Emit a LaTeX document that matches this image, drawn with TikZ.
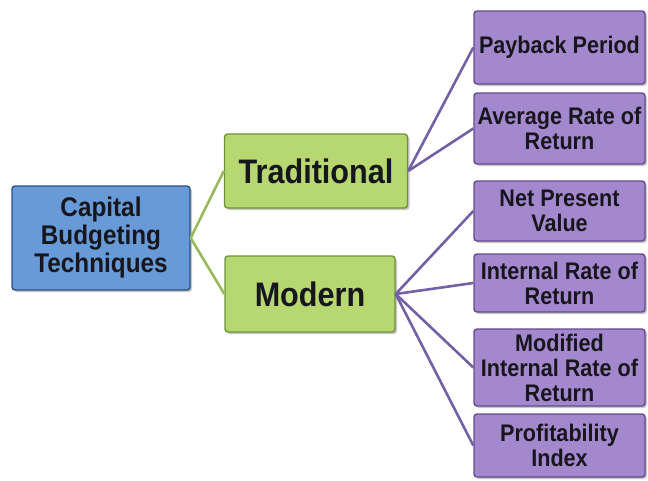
\documentclass[tikz,border=0pt]{standalone}
\usepackage{fontspec}
\usepackage{tikz}
\usetikzlibrary{shadows}
\newfontfamily\boxfont{Liberation Sans}[FakeStretch=0.9]
\definecolor{rootblue}{RGB}{104, 154, 216}
\definecolor{rootedge}{RGB}{45, 80, 128}
\definecolor{catgreen}{RGB}{183, 215, 112}
\definecolor{catedge}{RGB}{112, 146, 58}
\definecolor{methpurple}{RGB}{164, 136, 206}
\definecolor{methedge}{RGB}{98, 74, 140}
\definecolor{linkgreen}{RGB}{150, 186, 92}
\definecolor{linkpurple}{RGB}{116, 96, 164}
\definecolor{inkdark}{RGB}{22, 22, 28}
\tikzset{
    basebox/.style={rounded corners=3pt, line width=1.4pt, align=center, text=inkdark,
                    inner sep=2pt, drop shadow={shadow xshift=2pt, shadow yshift=-2pt, opacity=0.45}},
    rootbox/.style={basebox, draw=rootedge, fill=rootblue,
                    font=\boxfont\bfseries\fontsize{27}{28}\selectfont},
    catbox/.style={basebox, draw=catedge, fill=catgreen,
                    font=\boxfont\bfseries\fontsize{34}{36}\selectfont},
    methodbox/.style={basebox, draw=methedge, fill=methpurple, minimum width=171pt,
                    font=\boxfont\bfseries\fontsize{24}{25}\selectfont},
    greenlink/.style={draw=linkgreen, line width=2.6pt},
    purplelink/.style={draw=linkpurple, line width=2.6pt}
}
\begin{document}
\begin{tikzpicture}[x=1pt, y=-1pt]
    % Frame to fix the page size:
    \useasboundingbox (0, 0) rectangle (648, 480);
    % Root
    \node[rootbox, minimum width=178pt, minimum height=104pt] (capital) at (101, 238)
        {Capital\\Budgeting\\Techniques};
    % Categories
    \node[catbox, minimum width=183pt, minimum height=74pt] (trad)   at (316, 171) {Traditional};
    \node[catbox, minimum width=170pt, minimum height=76pt] (modern) at (310, 294) {Modern};
    % Traditional methods
    \node[methodbox, minimum height=73pt] (payback) at (559.5,  47.5) {Payback Period};
    \node[methodbox, minimum height=71pt] (arr)     at (559.5, 128.5) {Average Rate of\\Return};
    % Modern methods
    \node[methodbox, minimum height=60pt] (npv)     at (559.5, 211.0) {Net Present\\Value};
    \node[methodbox, minimum height=58pt] (irr)     at (559.5, 283.0) {Internal Rate of\\Return};
    \node[methodbox, minimum height=77pt] (mirr)    at (559.5, 367.5) {Modified\\Internal Rate of\\Return};
    \node[methodbox, minimum height=63pt] (pindex)  at (559.5, 445.5) {Profitability\\Index};
    % Links
    \draw[greenlink] (capital.east) -- (trad.west);
    \draw[greenlink] (capital.east) -- (modern.west);
    \foreach \m in {payback, arr}
        \draw[purplelink] (trad.east) -- (\m.west);
    \foreach \m in {npv, irr, mirr, pindex}
        \draw[purplelink] (modern.east) -- (\m.west);
\end{tikzpicture}
\end{document}
